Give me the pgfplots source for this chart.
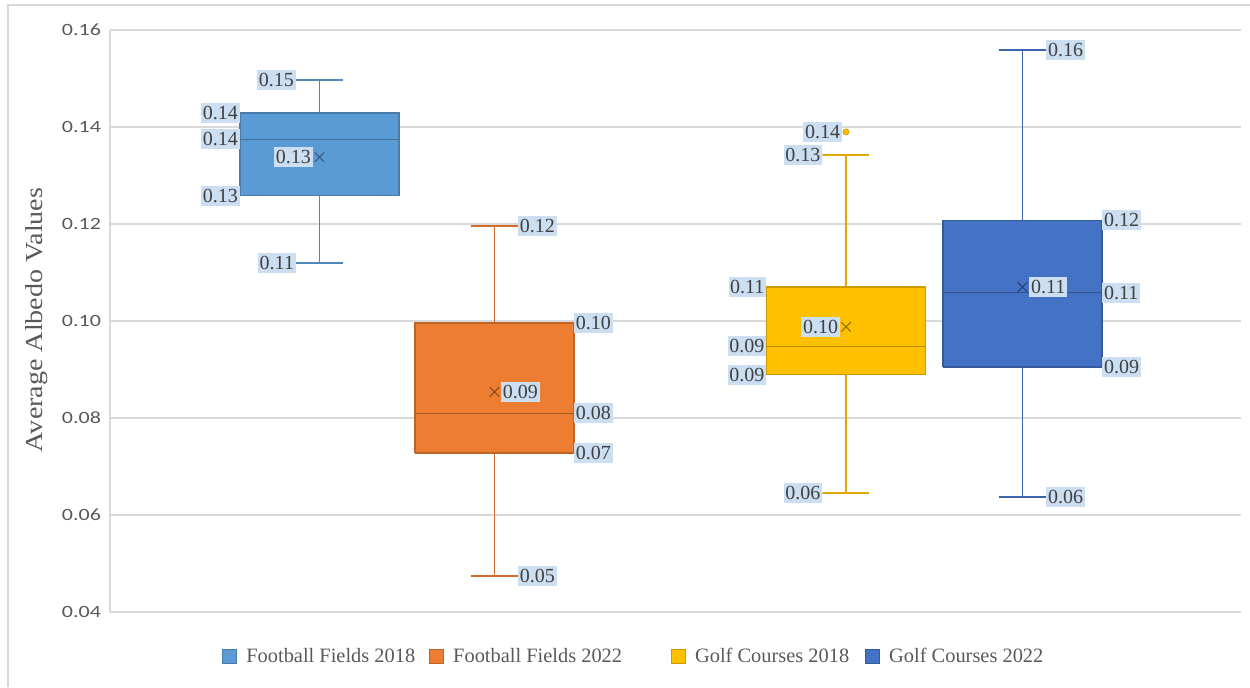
\documentclass[border=0pt]{standalone}
\usepackage{fontspec}
\setmainfont{Liberation Serif}
\newfontfamily\tickfont{Carlito}
\usepackage{pgfplots}
\pgfplotsset{compat=1.18}

\definecolor{ffA}{HTML}{5B9BD5}
\definecolor{ffB}{HTML}{ED7D31}
\definecolor{gcA}{HTML}{FFC000}
\definecolor{gcB}{HTML}{4472C4}
\definecolor{gridgray}{HTML}{D9D9D9}
\definecolor{tickgray}{HTML}{595959}
\definecolor{labtext}{HTML}{404040}
\definecolor{labfill}{HTML}{CBDEF2}

\tikzset{
  lab/.style={fill=labfill, inner xsep=0.8pt, inner ysep=1.7pt, text=labtext,
    font=\rmfamily\fontsize{10}{12}\selectfont},
}

% box-and-whisker pieces, one style per element
\pgfplotsset{
  qbox/.style={forget plot, fill=#1, draw=#1!80!black, line width=0.6pt, mark=none},
  qmed/.style={forget plot, draw=#1!72!black, line width=0.6pt, mark=none},
  qwhisk/.style={forget plot, draw=#1!88!black, line width=0.7pt, mark=none},
  qmean/.style={forget plot, only marks, mark=x, mark size=3.3pt,
    mark options={draw=#1!58!black, line width=0.5pt}},
  qout/.style={forget plot, only marks, mark=*, mark size=1.5pt,
    mark options={fill=#1, draw=#1!85!black, line width=0.4pt}},
}

\begin{document}
\begin{tikzpicture}
\useasboundingbox (0,0) rectangle (625pt,343.5pt);
\draw[gridgray, line width=0.6pt] (4pt,0) -- (4pt,341pt) -- (625pt,341pt);

\begin{axis}[
  at={(55pt,37.5pt)}, anchor=south west,
  scale only axis, width=565.5pt, height=291pt,
  xmin=0, xmax=7.1132, ymin=0.04, ymax=0.16,
  xtick=\empty,
  ytick={0.04,0.06,0.08,0.10,0.12,0.14,0.16},
  yticklabel style={font=\tickfont\fontsize{8.6}{10}\selectfont, text=tickgray,
    xscale=1.28},
  /pgf/number format/.cd, fixed, fixed zerofill, precision=2, assume math mode=true,
  /pgfplots/.cd,
  major tick length=0pt,
  ymajorgrids, grid style={gridgray, line width=0.6pt},
  axis line style={draw=none},
  clip=false,
  legend style={at={(0.099,-0.0773)}, anchor=west, draw=none, fill=none,
    inner sep=0pt, font=\rmfamily\fontsize{10.2}{12}\selectfont, text=tickgray,
    legend columns=4,
    /tikz/every odd column/.append style={column sep=2.5pt},
    /tikz/every even column/.append style={column sep=5pt}},
  legend cell align=left,
]
\draw[gridgray, line width=0.6pt] (axis cs:0,0.04) -- (axis cs:0,0.16);

% Football Fields 2018: whiskers 0.1120/0.1497, quartiles 0.1258/0.1429, median 0.1375, mean 0.1338
\addplot[qwhisk=ffA] coordinates {(1.3176,0.1429) (1.3176,0.1497) (1.1698,0.1497) (1.4654,0.1497)};
\addplot[qwhisk=ffA] coordinates {(1.3176,0.1258) (1.3176,0.1120) (1.1698,0.1120) (1.4654,0.1120)};
\addplot[qbox=ffA] coordinates {(0.8176,0.1258) (1.8176,0.1258) (1.8176,0.1429) (0.8176,0.1429) (0.8176,0.1258)};
\addplot[qmed=ffA] coordinates {(0.8176,0.1375) (1.8176,0.1375)};
\addplot[qmean=ffA] coordinates {(1.3176,0.1338)};

% Football Fields 2022: whiskers 0.0474/0.1196, quartiles 0.0728/0.0996, median 0.0810, mean 0.0854
\addplot[qwhisk=ffB] coordinates {(2.4182,0.0996) (2.4182,0.1196) (2.2704,0.1196) (2.5660,0.1196)};
\addplot[qwhisk=ffB] coordinates {(2.4182,0.0728) (2.4182,0.0474) (2.2704,0.0474) (2.5660,0.0474)};
\addplot[qbox=ffB] coordinates {(1.9182,0.0728) (2.9182,0.0728) (2.9182,0.0996) (1.9182,0.0996) (1.9182,0.0728)};
\addplot[qmed=ffB] coordinates {(1.9182,0.0810) (2.9182,0.0810)};
\addplot[qmean=ffB] coordinates {(2.4182,0.0854)};

% Golf Courses 2018: whiskers 0.0645/0.1342, quartiles 0.0889/0.1070, median 0.0948, mean 0.0988, outlier 0.1390
\addplot[qwhisk=gcA] coordinates {(4.6289,0.1070) (4.6289,0.1342) (4.4811,0.1342) (4.7767,0.1342)};
\addplot[qwhisk=gcA] coordinates {(4.6289,0.0889) (4.6289,0.0645) (4.4811,0.0645) (4.7767,0.0645)};
\addplot[qbox=gcA] coordinates {(4.1289,0.0889) (5.1289,0.0889) (5.1289,0.1070) (4.1289,0.1070) (4.1289,0.0889)};
\addplot[qmed=gcA] coordinates {(4.1289,0.0948) (5.1289,0.0948)};
\addplot[qmean=gcA] coordinates {(4.6289,0.0988)};
\addplot[qout=gcA] coordinates {(4.6289,0.1390)};

% Golf Courses 2022: whiskers 0.0637/0.1559, quartiles 0.0905/0.1208, median 0.1058, mean 0.1070
\addplot[qwhisk=gcB] coordinates {(5.7390,0.1208) (5.7390,0.1559) (5.5912,0.1559) (5.8868,0.1559)};
\addplot[qwhisk=gcB] coordinates {(5.7390,0.0905) (5.7390,0.0637) (5.5912,0.0637) (5.8868,0.0637)};
\addplot[qbox=gcB] coordinates {(5.2390,0.0905) (6.2390,0.0905) (6.2390,0.1208) (5.2390,0.1208) (5.2390,0.0905)};
\addplot[qmed=gcB] coordinates {(5.2390,0.1058) (6.2390,0.1058)};
\addplot[qmean=gcB] coordinates {(5.7390,0.1070)};

% legend keys: small filled squares
\pgfplotsset{sqkey/.style={legend image code/.code={%
  \draw[fill=#1, draw=#1!80!black, line width=0.5pt]
    (0pt,-3.5pt) rectangle (7pt,3.5pt);}}}
\addlegendimage{sqkey=ffA}
\addlegendentry{Football Fields 2018}
\addlegendimage{sqkey=ffB}
\addlegendentry{Football Fields 2022\rule{17.5pt}{0pt}}
\addlegendimage{sqkey=gcA}
\addlegendentry{Golf Courses 2018\rule{1pt}{0pt}}
\addlegendimage{sqkey=gcB}
\addlegendentry{Golf Courses 2022}

% value labels
\node[lab, anchor=east] at (axis cs:1.1698,0.1497) {0.15};
\node[lab, anchor=east] at (axis cs:0.8176,0.1429) {0.14};
\node[lab, anchor=east] at (axis cs:0.8176,0.1375) {0.14};
\node[lab, anchor=east] at (axis cs:1.2767,0.1338) {0.13};
\node[lab, anchor=east] at (axis cs:0.8176,0.1258) {0.13};
\node[lab, anchor=east] at (axis cs:1.1698,0.1120) {0.11};

\node[lab, anchor=west] at (axis cs:2.5660,0.1196) {0.12};
\node[lab, anchor=west] at (axis cs:2.9182,0.0996) {0.10};
\node[lab, anchor=west] at (axis cs:2.4591,0.0854) {0.09};
\node[lab, anchor=west] at (axis cs:2.9182,0.0810) {0.08};
\node[lab, anchor=west] at (axis cs:2.9182,0.0728) {0.07};
\node[lab, anchor=west] at (axis cs:2.5660,0.0474) {0.05};

\node[lab, anchor=east] at (axis cs:4.6038,0.1390) {0.14};
\node[lab, anchor=east] at (axis cs:4.4811,0.1342) {0.13};
\node[lab, anchor=east] at (axis cs:4.1289,0.1070) {0.11};
\node[lab, anchor=east] at (axis cs:4.5912,0.0988) {0.10};
\node[lab, anchor=east] at (axis cs:4.1289,0.0948) {0.09};
\node[lab, anchor=east] at (axis cs:4.1289,0.0889) {0.09};
\node[lab, anchor=east] at (axis cs:4.4811,0.0645) {0.06};

\node[lab, anchor=west] at (axis cs:5.8868,0.1559) {0.16};
\node[lab, anchor=west] at (axis cs:6.2390,0.1208) {0.12};
\node[lab, anchor=west] at (axis cs:5.7799,0.1070) {0.11};
\node[lab, anchor=west] at (axis cs:6.2390,0.1058) {0.11};
\node[lab, anchor=west] at (axis cs:6.2390,0.0905) {0.09};
\node[lab, anchor=west] at (axis cs:5.8868,0.0637) {0.06};
\end{axis}

\node[rotate=90, xscale=1.15, text=tickgray, font=\rmfamily\fontsize{12.2}{14}\selectfont]
  at (18.5pt,183.5pt) {Average Albedo Values};
\end{tikzpicture}
\end{document}
